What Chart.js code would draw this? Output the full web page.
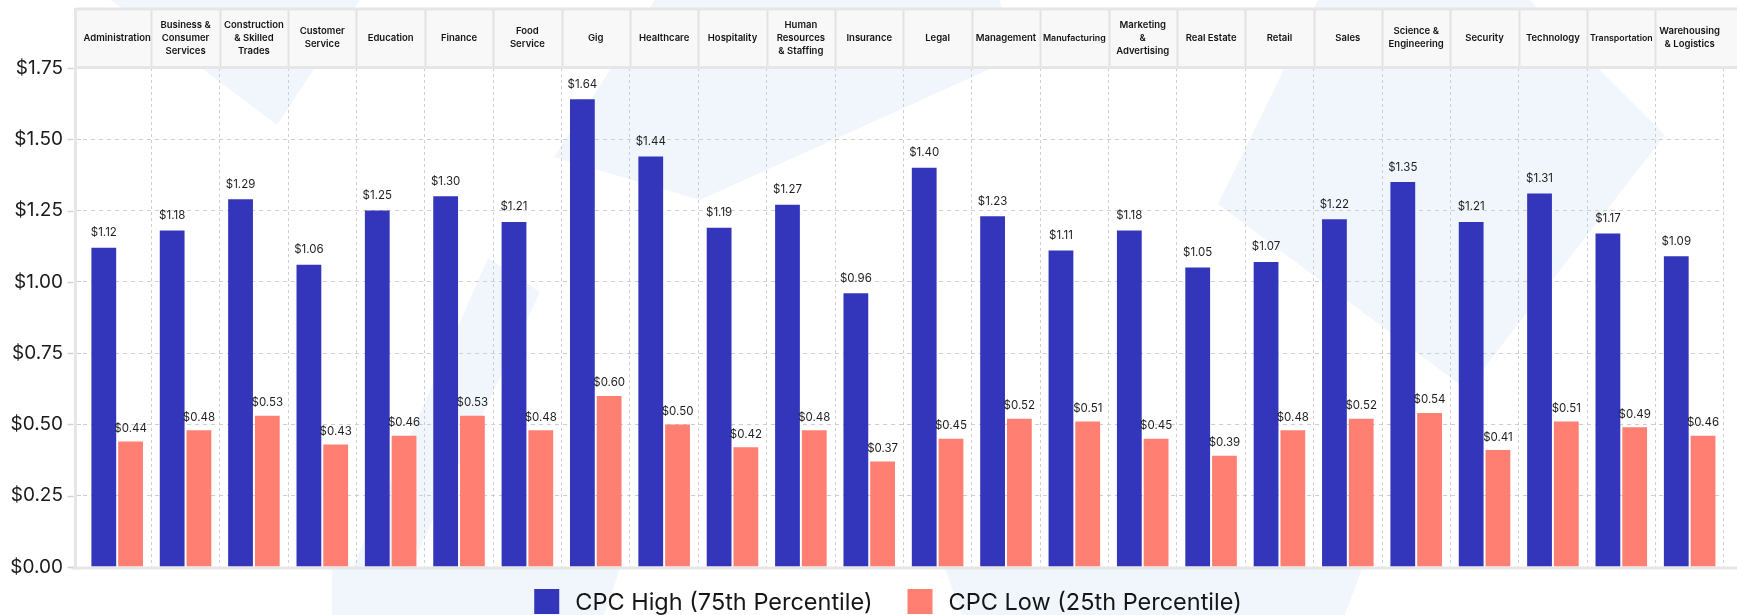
<!DOCTYPE html>
<html>
<head>
<meta charset="utf-8">
<title>CPC by industry</title>
<script src="https://cdn.jsdelivr.net/npm/chart.js@4.4.1/dist/chart.umd.min.js"></script>
<style>
  html, body { margin: 0; padding: 0; background: #ffffff; }
  #wrap { position: relative; width: 1737px; height: 615px; }
</style>
</head>
<body>
<div id="wrap"><canvas id="cpc" width="1737" height="615"></canvas></div>
<script>
// Industry categories (multi-line header labels)
const categories = [
  'Administration',
  ['Business &', 'Consumer', 'Services'],
  ['Construction', '& Skilled', 'Trades'],
  ['Customer', 'Service'],
  'Education',
  'Finance',
  ['Food', 'Service'],
  'Gig',
  'Healthcare',
  'Hospitality',
  ['Human', 'Resources', '& Staffing'],
  'Insurance',
  'Legal',
  'Management',
  'Manufacturing',
  ['Marketing', '&', 'Advertising'],
  'Real Estate',
  'Retail',
  'Sales',
  ['Science &', 'Engineering'],
  'Security',
  'Technology',
  'Transportation',
  ['Warehousing', '& Logistics']
];

// Cost per click, 75th percentile
const cpcHigh = [1.12, 1.18, 1.29, 1.06, 1.25, 1.30, 1.21, 1.64, 1.44, 1.19, 1.27, 0.96,
                 1.40, 1.23, 1.11, 1.18, 1.05, 1.07, 1.22, 1.35, 1.21, 1.31, 1.17, 1.09];

// Cost per click, 25th percentile
const cpcLow = [0.44, 0.48, 0.53, 0.43, 0.46, 0.53, 0.48, 0.60, 0.50, 0.42, 0.48, 0.37,
                0.45, 0.52, 0.51, 0.45, 0.39, 0.48, 0.52, 0.54, 0.41, 0.51, 0.49, 0.46];

// Value axis
const yMin = 0;
const yMax = 1.75;
const yStep = 0.25;

const seriesNames = ['CPC High (75th Percentile)', 'CPC Low (25th Percentile)'];
const seriesColors = ['#3336BB', '#FF7F72'];

const money = v => '$' + Number(v).toFixed(2);

const PLOT_LEFT = 83;
const HEADER_FONT = 9.5;
const measureCtx = document.createElement('canvas').getContext('2d');

// Shrink a header label's font when its longest line would not fit its cell
function headerFont(c) {
  const lab = categories[c.index];
  const lines = Array.isArray(lab) ? lab : [lab];
  measureCtx.font = `600 ${HEADER_FONT}px Inter`;
  const longest = Math.max(...lines.map(l => measureCtx.measureText(l).width));
  const cell = (1737 - PLOT_LEFT) / categories.length - 6 + (c.index === 0 ? 7 : 0);
  const size = longest > cell ? HEADER_FONT * cell / longest : HEADER_FONT;
  return { family: 'Inter', size, weight: '600', lineHeight: 13 / size };
}

// Soft watermark shapes behind the plot
const watermark = {
  id: 'watermark',
  beforeDraw(chart) {
    const ctx = chart.ctx;
    const shapes = [
      [[111, 0], [360, 0], [277, 125]],
      [[488, 258], [540, 292], [410, 569], [352, 569]],
      [[332, 569], [620, 569], [604, 615], [332, 615]],
      [[655, 0], [1000, 0], [1010, 60], [700, 200], [554, 157]],
      [[1318, 0], [1530, 0], [1665, 135], [1467, 390], [1218, 204]],
      [[945, 569], [1362, 569], [1345, 615], [962, 615]]
    ];
    ctx.save();
    ctx.fillStyle = '#F1F6FD';
    for (const s of shapes) {
      ctx.beginPath();
      s.forEach(([x, y], i) => i ? ctx.lineTo(x, y) : ctx.moveTo(x, y));
      ctx.closePath();
      ctx.fill();
    }
    ctx.restore();
  }
};

// Header table behind the category labels
const headerTable = {
  id: 'headerTable',
  beforeDraw(chart) {
    const { ctx, chartArea, scales: { x } } = chart;
    const left = chartArea.left - 7;
    const right = chart.width;
    const top = x.top + 1;
    const bottom = x.bottom - 1;
    const cw = x.width / categories.length;
    ctx.save();
    ctx.fillStyle = '#F8F8F8';
    ctx.fillRect(left, top, right - left, bottom - top);
    ctx.strokeStyle = '#E3E3E3';
    ctx.lineWidth = 2;
    for (let i = 1; i < categories.length; i++) {
      const bx = Math.round(x.left + i * cw) + 0.5;
      ctx.beginPath();
      ctx.moveTo(bx, top);
      ctx.lineTo(bx, bottom);
      ctx.stroke();
    }
    ctx.lineWidth = 3;
    ctx.strokeStyle = '#E6E6E6';
    ctx.beginPath();
    ctx.moveTo(left, top);
    ctx.lineTo(right, top);
    ctx.stroke();
    ctx.restore();
  }
};

// Axis frame lines, small tick marks and value labels above the bars
const frameAndLabels = {
  id: 'frameAndLabels',
  afterDatasetsDraw(chart) {
    const { ctx, chartArea, scales: { x, y } } = chart;
    const axisX = chartArea.left - 7.5;
    ctx.save();
    // value labels
    ctx.font = '11.5px Inter';
    ctx.fillStyle = '#1E1E1E';
    ctx.textAlign = 'center';
    ctx.textBaseline = 'middle';
    chart.data.datasets.forEach((ds, di) => {
      const meta = chart.getDatasetMeta(di);
      const lift = di === 0 ? 15 : 13;
      meta.data.forEach((bar, i) => {
        ctx.fillText(money(ds.data[i]), bar.x, bar.y - lift);
      });
    });
    // header bottom rule
    ctx.strokeStyle = '#E6E6E6';
    ctx.lineWidth = 3;
    ctx.beginPath();
    ctx.moveTo(axisX, chartArea.top - 0.5);
    ctx.lineTo(chart.width, chartArea.top - 0.5);
    ctx.stroke();
    // baseline
    ctx.beginPath();
    ctx.moveTo(axisX - 4, chartArea.bottom + 1);
    ctx.lineTo(chart.width, chartArea.bottom + 1);
    ctx.stroke();
    // vertical axis line
    ctx.beginPath();
    ctx.moveTo(axisX, x.top);
    ctx.lineTo(axisX, chartArea.bottom + 2.5);
    ctx.stroke();
    // tick marks
    ctx.strokeStyle = '#D2D2D2';
    ctx.lineWidth = 1.5;
    y.ticks.forEach(t => {
      const py = Math.round(y.getPixelForValue(t.value)) + 0.5;
      ctx.beginPath();
      ctx.moveTo(axisX - 8, py);
      ctx.lineTo(axisX - 2, py);
      ctx.stroke();
    });
    ctx.restore();
  }
};

// Legend drawn under the plot
const bottomLegend = {
  id: 'bottomLegend',
  afterDraw(chart) {
    const ctx = chart.ctx;
    const box = 25, gapText = 16, gapItem = 35;
    ctx.save();
    ctx.font = '23.5px Inter';
    ctx.textBaseline = 'middle';
    ctx.textAlign = 'left';
    const widths = chart.data.datasets.map(d => ctx.measureText(d.label).width);
    const total = widths.reduce((a, w) => a + box + gapText + w, 0) + gapItem * (widths.length - 1);
    let cx = 888 - total / 2;
    const top = 589;
    chart.data.datasets.forEach((d, i) => {
      ctx.fillStyle = d.backgroundColor;
      ctx.fillRect(cx, top, box, box);
      ctx.fillStyle = '#161616';
      ctx.fillText(d.label, cx + box + gapText, top + 14);
      cx += box + gapText + widths[i] + gapItem;
    });
    ctx.restore();
  }
};

const gridColor = '#CFCFCF';

new Chart(document.getElementById('cpc'), {
  type: 'bar',
  data: {
    labels: categories,
    datasets: [
      { label: seriesNames[0], data: cpcHigh, backgroundColor: seriesColors[0] },
      { label: seriesNames[1], data: cpcLow, backgroundColor: seriesColors[1] }
    ]
  },
  options: {
    responsive: false,
    animation: false,
    devicePixelRatio: 1,
    layout: { padding: { top: 8, left: 0, right: 0, bottom: 48 } },
    datasets: {
      bar: { categoryPercentage: 0.783, barPercentage: 0.926 }
    },
    plugins: {
      legend: { display: false },
      tooltip: { enabled: false }
    },
    scales: {
      x: {
        position: 'top',
        offset: true,
        afterFit(s) { s.height = 60; },
        grid: {
          offset: true,
          drawTicks: false,
          lineWidth: 1,
          color: c => (c.index === 0 || c.index === categories.length) ? 'rgba(0,0,0,0)' : gridColor,
          borderDash: [3, 3]
        },
        border: { display: false, dash: [3, 3] },
        ticks: {
          autoSkip: false,
          maxRotation: 0,
          minRotation: 0,
          crossAlign: 'center',
          padding: 17,
          color: '#141414',
          font: headerFont
        }
      },
      y: {
        min: yMin,
        max: yMax,
        afterFit(s) { s.width = PLOT_LEFT; },
        grid: {
          drawTicks: true,
          tickLength: 6,
          lineWidth: 1,
          color: gridColor,
          tickColor: gridColor,
          borderDash: [4, 4],
          tickBorderDash: [4, 4]
        },
        border: { display: false, dash: [4, 4] },
        ticks: {
          stepSize: yStep,
          padding: 14,
          color: '#1B1B1B',
          font: { family: 'Inter', size: 19 },
          callback: v => money(v)
        }
      }
    }
  },
  plugins: [watermark, headerTable, frameAndLabels, bottomLegend]
});
</script>
</body>
</html>
